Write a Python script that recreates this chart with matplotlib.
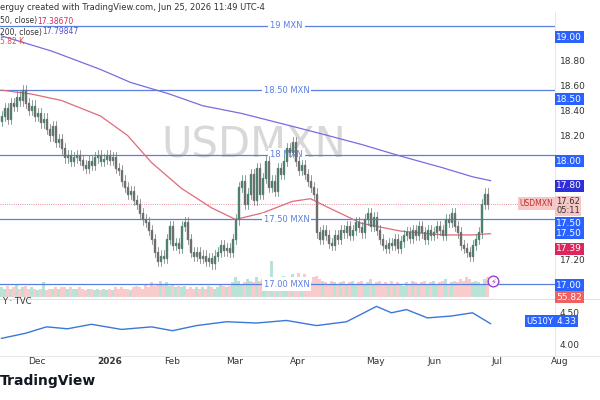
import matplotlib
matplotlib.use("Agg")
import matplotlib.pyplot as plt
from matplotlib.patches import Rectangle
import numpy as np

closes = [18.30,18.36,18.28,18.40,18.38, 18.45,18.42,18.50,18.40,18.35, 18.38,18.30,18.32,18.25,18.28,
          18.20,18.15,18.22,18.10,18.12, 18.05,17.98,18.00,17.95,17.98, 18.00,17.96,17.92,17.90,17.95,
          17.92,17.98,18.00,17.95,17.97, 18.00,17.96,17.98,17.90,17.88, 17.80,17.75,17.70,17.72,17.65,
          17.62,17.55,17.50,17.48,17.42, 17.35,17.25,17.18,17.22,17.20, 17.35,17.45,17.30,17.32,17.28,
          17.45,17.48,17.35,17.25,17.22, 17.25,17.20,17.22,17.18,17.20, 17.16,17.22,17.25,17.30,17.26,
          17.28,17.25,17.35,17.50,17.75, 17.80,17.62,17.70,17.85,17.65, 17.90,17.70,17.82,17.95,17.75,
          17.80,17.72,17.90,17.85,17.95, 18.05,18.02,18.10,17.95,17.88, 17.92,17.85,17.80,17.75,17.70,
          17.40,17.35,17.42,17.38,17.32, 17.30,17.38,17.35,17.42,17.40, 17.45,17.38,17.42,17.48,17.44,
          17.40,17.50,17.55,17.45,17.52, 17.42,17.35,17.30,17.28,17.32, 17.30,17.35,17.28,17.33,17.38,
          17.40,17.36,17.42,17.38,17.45, 17.40,17.35,17.42,17.38,17.40, 17.45,17.42,17.38,17.50,17.48,
          17.55,17.45,17.40,17.30,17.28, 17.25,17.22,17.30,17.35,17.40, 17.62,17.70,17.62]
first_open = 18.26
volumes = [6,5,7,5,6, 8,5,6,7,5, 6,5,4,5,9, 4,5,5,6,5, 6,6,5,6,5, 5,6,5,4,5, 5,4,5,4,5, 4,5,4,6,5,
           6,5,5,4,6, 7,6,5,8,6, 9,7,8,10,8, 9,7,8,6,7, 6,7,5,6,5, 6,5,6,5,7, 6,5,6,8,7, 6,7,9,12,10,
           8,9,11,10,9, 12,10,11,9,10, 22,9,12,11,13, 10,12,14,10,15, 12,14,10,9,12, 13,11,10,9,8,
           10,9,8,9,10, 8,9,10,8,9, 10,8,9,11,8, 9,10,8,9,8, 10,8,9,8,7, 9,8,10,9,8, 9,10,8,9,10,
           8,9,10,11,8, 9,10,9,11,10, 12,11,9, 10,9,8,11,12]
ma50_x = [0,10,20,33,42,50,60,70,78,87,97,103,110,120,133,147,157,163]
ma50_y = [18.50,18.47,18.42,18.30,18.15,17.94,17.74,17.59,17.50,17.55,17.64,17.66,17.58,17.47,17.41,17.38,17.38,17.39]
ma200_x = [0,17,33,43,56,67,80,97,107,120,133,147,157,163]
ma200_y = [18.92,18.80,18.66,18.56,18.47,18.38,18.32,18.22,18.16,18.08,17.99,17.90,17.83,17.80]
us_x = [0,8,15,22,30,40,50,57,65,75,85,95,105,115,125,130,135,142,150,157,163]
us_y = [4.10,4.18,4.28,4.25,4.32,4.24,4.28,4.22,4.30,4.36,4.34,4.38,4.30,4.36,4.60,4.50,4.55,4.42,4.45,4.50,4.33]
levels = [19.0, 18.5, 18.0, 17.5, 17.0]
level_labels = ["19 MXN", "18.50 MXN", "18 MXN", "17.50 MXN", "17.00 MXN"]
month_pos = [12.3, 36.7, 57.3, 78.3, 99.3, 125.0, 145.0, 165.7, 186.7]
month_lab = ["Dec", "2026", "Feb", "Mar", "Apr", "May", "Jun", "Jul", "Aug"]

BLUE = "#5b7fe0"
fig = plt.figure(figsize=(6, 4), dpi=100)
ax = fig.add_axes([0, 0.2575, 0.925, 0.7175])
n = len(closes)
opens = [first_open] + closes[:-1]
ax.set_xlim(-0.5, 184.5)
ax.set_ylim(16.90, 19.12)
vax = ax.inset_axes([0, 0, 1, 0.17])
vax.set_xlim(-0.5, 184.5); vax.set_ylim(0, 30); vax.axis("off")
vcol = ["#b9e3d6" if closes[i] >= opens[i] else "#f8cccc" for i in range(n)]
vax.bar(range(n), volumes[:n], width=0.7, color=vcol)
vax.set_zorder(0)
for i in range(n):
    o, c = opens[i], closes[i]
    col = "#4f7f6d" if c >= o else "#6e6e6e"
    ax.plot([i, i], [min(o, c) - 0.04, max(o, c) + 0.04], color=col, lw=0.5, zorder=3)
    ax.add_patch(Rectangle((i - 0.3, min(o, c)), 0.6, max(abs(c - o), 0.006), color=col, zorder=3))
ax.plot(ma50_x, ma50_y, color="#e06a7a", lw=0.9, zorder=2)
ax.plot(ma200_x, ma200_y, color="#7a6be0", lw=0.9, zorder=2)
for lv, lb in zip(levels, level_labels):
    ax.axhline(lv, color=BLUE, lw=0.9, zorder=1)
    ax.text(95, lv, lb, color=BLUE, fontsize=6, ha="center", va="center",
            bbox=dict(fc="white", ec="none", pad=1.5), zorder=2.5)
ax.axhline(closes[-1], color="#e06a7a", lw=0.6, ls=":", zorder=1)
ax.text(84, 18.07, "USDMXN", fontsize=30, color="#d8d8d8", ha="center", va="center", zorder=0)
ax.text(164, 17.02, "⚡", fontsize=6, color="#9b3fd0", ha="center", va="center",
        bbox=dict(boxstyle="circle,pad=0.1", fc="white", ec="#9b3fd0"))
for s in ax.spines.values(): s.set_visible(False)
ax.set_xticks([]); ax.set_yticks([])
ax.patch.set_alpha(0)

lax = fig.add_axes([0, 0.1125, 0.925, 0.1375])
lax.set_xlim(-0.5, 184.5); lax.set_ylim(3.84, 4.70)
lax.plot(us_x, us_y, color="#3a78d8", lw=1.0)
for s in lax.spines.values(): s.set_visible(False)
lax.set_xticks([]); lax.set_yticks([])
fig.add_artist(plt.Line2D([0, 1], [0.2525, 0.2525], color="#e0e3eb", lw=0.8))
fig.add_artist(plt.Line2D([0.925, 0.925], [0.11, 0.97], color="#e0e3eb", lw=0.6))
fig.add_artist(plt.Line2D([0, 1], [0.11, 0.11], color="#e0e3eb", lw=0.6))

def fy(y): return 1 - y / 400
for p, l in zip(month_pos, month_lab):
    fig.text(p * 3 / 600, fy(362), l, fontsize=6.5, color="#333", ha="center", va="center",
             fontweight="bold" if l == "2026" else "normal")

def price_y(v): return fy(37 + (19 - v) * 124)
for v in [18.8, 18.6, 18.4, 18.2, 17.2]:
    fig.text(0.933, price_y(v), f"{v:.2f}", fontsize=6.5, color="#333", va="center")
def box(y, txt, fc, x=0.927):
    fig.text(x, y, txt, fontsize=6.5, color="white", va="center",
             bbox=dict(fc=fc, ec="none", pad=1.2))
for v in levels:
    box(price_y(v), f"{v:.2f}", "#2962ff")
box(price_y(17.80), "17.80", "#2f2fd8")
box(price_y(17.50) - 0.025, "17.50", "#2962ff")
box(price_y(17.39) - 0.03, "17.39", "#e0245e")
box(price_y(17.0) - 0.03, "55.82", "#f06060")
fig.text(0.927, price_y(17.62) + 0.005, "17.62\n05:11", fontsize=6, color="#333", va="center",
         linespacing=1.0, bbox=dict(fc="#f7c6c6", ec="none", pad=0.8))
fig.text(0.922, price_y(17.62) + 0.012, "USDMXN", fontsize=5.5, color="#c03030", ha="right", va="center",
         bbox=dict(fc="#f7c6c6", ec="none", pad=1.2))
fig.text(0.933, fy(313), "4.50", fontsize=6.5, color="#333", va="center")
fig.text(0.933, fy(345), "4.00", fontsize=6.5, color="#333", va="center")
box(fy(321), "4.33", "#2962ff")
fig.text(0.922, fy(321), "US10Y", fontsize=6, color="white", ha="right", va="center",
         bbox=dict(fc="#2962ff", ec="none", pad=1.2))
fig.text(0.003, fy(302), "Y · TVC", fontsize=6, color="#333", va="center")

fig.text(0.0, fy(7), "erguy created with TradingView.com, Jun 25, 2026 11:49 UTC-4", fontsize=6, color="#333", va="center")
fig.text(0.0, fy(21), "50, close)", fontsize=5.5, color="#333", va="center")
fig.text(0.062, fy(21), "17.38670", fontsize=5.5, color="#e0245e", va="center")
fig.text(0.0, fy(32), "200, close)", fontsize=5.5, color="#333", va="center")
fig.text(0.07, fy(32), "17.79847", fontsize=5.5, color="#5050d8", va="center")
fig.text(0.0, fy(42), "5.82 K", fontsize=5.5, color="#e05050", va="center")
fig.text(0.0, fy(381), "TradingView", fontsize=10, color="#131722", fontweight="bold", va="center")
fig.savefig("out.png", dpi=100, facecolor="white")
